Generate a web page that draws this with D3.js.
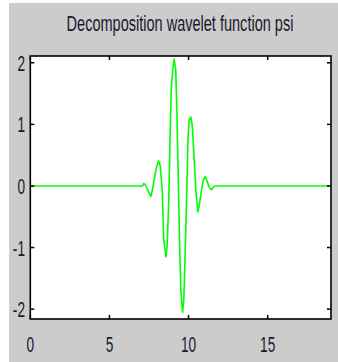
<!DOCTYPE html>
<html><head><meta charset="utf-8">
<script src="https://cdn.jsdelivr.net/npm/d3@7"></script>
<style>html,body{margin:0;padding:0;background:#fff;}svg{display:block;}</style>
</head><body>
<svg id="c" width="338" height="362"></svg>
<script>
const title = "Decomposition wavelet function psi";
const xTicks = [0, 5, 10, 15];
const yTicks = [-2, -1, 0, 1, 2];
const xDomain = [0, 19];
const yDomain = [-2.16, 2.11];
// psi(t) samples
const psiX = [0, 7.09, 7.16, 7.26, 7.62, 7.73, 7.83, 7.96, 8.10, 8.21, 8.34, 8.43, 8.57, 8.65, 8.75, 8.84, 8.91, 9.00, 9.09, 9.19, 9.27, 9.35, 9.43, 9.51, 9.62, 9.70, 9.79, 9.89, 9.96, 10.04, 10.14, 10.23, 10.36, 10.46, 10.59, 10.68, 10.80, 10.93, 11.06, 11.18, 11.31, 11.44, 11.58, 11.66, 19];
const psiY = [0, 0, 0.04, 0.02, -0.17, -0.05, 0.10, 0.29, 0.41, 0.33, -0.07, -0.88, -1.15, -0.96, -0.23, 0.91, 1.58, 1.89, 2.06, 1.89, 1.12, 0.10, -0.88, -1.69, -2.05, -1.85, -1.04, -0.07, 0.75, 1.07, 1.12, 0.99, 0.42, -0.07, -0.42, -0.31, -0.10, 0.10, 0.15, 0.07, -0.02, -0.06, -0.02, 0, 0];

const svg = d3.select("#c");
const L = 30.3, R = 331, T = 56, B = 319;
const x = d3.scaleLinear().domain(xDomain).range([L, R]);
const y = d3.scaleLinear().domain(yDomain).range([B, T]);

svg.append("rect").attr("x", 9).attr("y", 3).attr("width", 338 - 9).attr("height", 362 - 3).attr("fill", "#cccccc");
svg.append("rect").attr("x", L).attr("y", T).attr("width", R - L).attr("height", B - T).attr("fill", "#fff");

const data = psiX.map((v, i) => [v, psiY[i]]);
svg.append("path").datum(data)
  .attr("d", d3.line().x(d => x(d[0])).y(d => y(d[1])))
  .attr("fill", "none").attr("stroke", "#00ff00").attr("stroke-width", 1.6).attr("stroke-linejoin", "round");

const tk = 4;
const g = svg.append("g").attr("stroke", "#000").attr("stroke-width", 1.5);
xTicks.forEach(t => {
  g.append("line").attr("x1", x(t)).attr("x2", x(t)).attr("y1", B).attr("y2", B - tk);
  g.append("line").attr("x1", x(t)).attr("x2", x(t)).attr("y1", T).attr("y2", T + tk);
});
yTicks.forEach(t => {
  g.append("line").attr("x1", L).attr("x2", L + tk).attr("y1", y(t)).attr("y2", y(t));
  g.append("line").attr("x1", R).attr("x2", R - tk).attr("y1", y(t)).attr("y2", y(t));
});
svg.append("rect").attr("x", L).attr("y", T).attr("width", R - L).attr("height", B - T)
  .attr("fill", "none").attr("stroke", "#000").attr("stroke-width", 1.6);

const font = "Liberation Sans, Arial, sans-serif";
const sx = 0.62;
svg.append("g").selectAll("text").data(xTicks).join("text")
  .attr("transform", d => `translate(${x(d)},352) scale(${sx},1)`)
  .attr("text-anchor", "middle").attr("font-family", font).attr("font-size", 22)
  .attr("fill", "#1a1a2e").text(d => d);
svg.append("g").selectAll("text").data(yTicks).join("text")
  .attr("transform", d => `translate(25,${y(d) + 8}) scale(${sx},1)`)
  .attr("text-anchor", "end").attr("font-family", font).attr("font-size", 22)
  .attr("fill", "#1a1a2e").text(d => d < 0 ? "-" + Math.abs(d) : d);

// title, horizontally condensed
const tt = svg.append("text").attr("x", 0).attr("y", 0)
  .attr("text-anchor", "middle").attr("font-family", font).attr("font-size", 22)
  .attr("fill", "#1a1a2e").text(title);
const w = tt.node().getComputedTextLength();
tt.attr("transform", `translate(180,31) scale(${227 / w},1)`);
</script>
</body></html>
